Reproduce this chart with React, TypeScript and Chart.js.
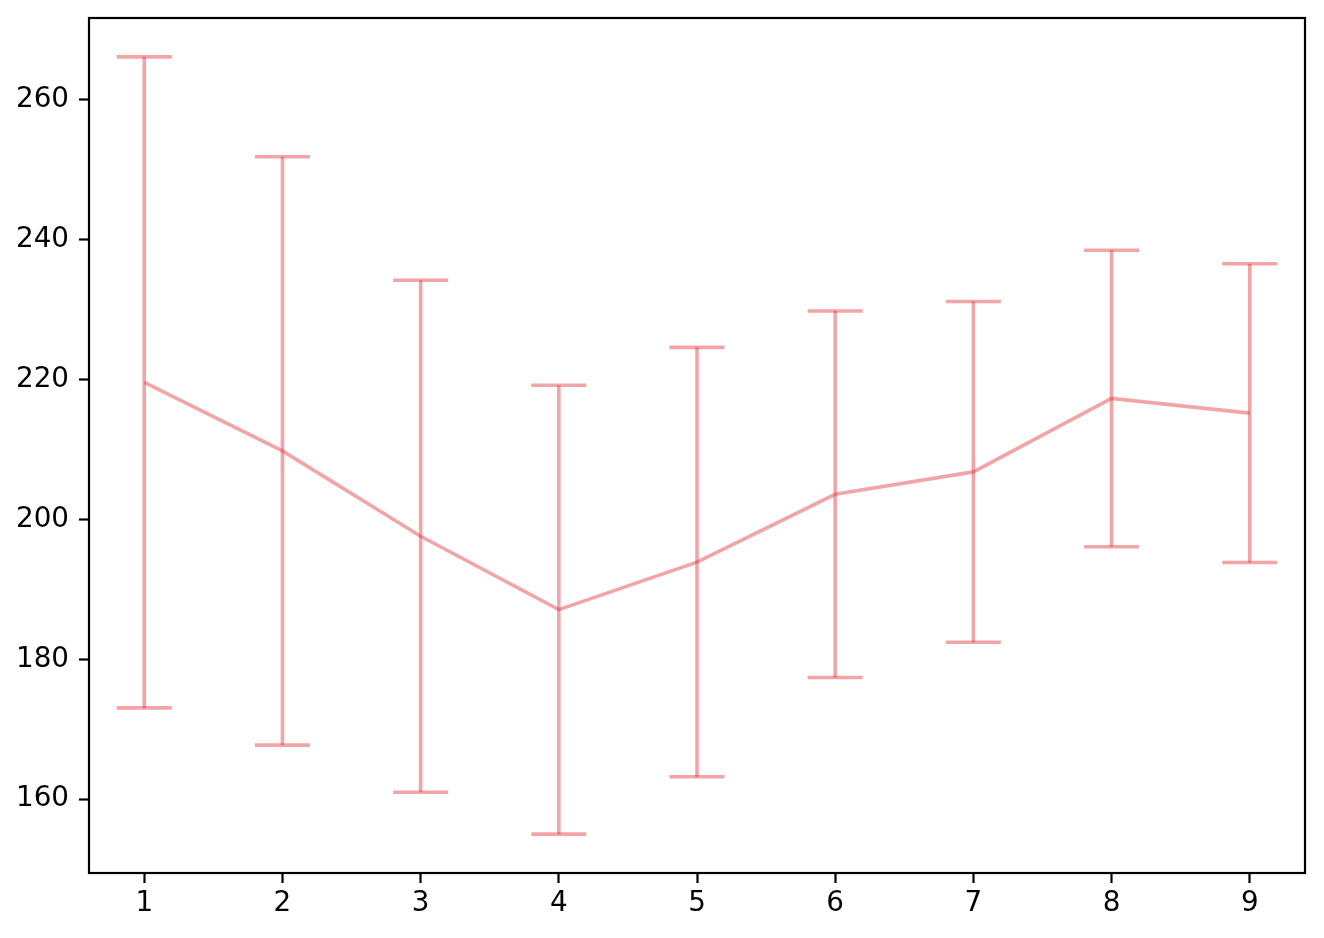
import React, { useEffect, useRef } from "react";
import { Chart, registerables } from "chart.js";

Chart.register(...registerables);

// ---- data ----
const xValues = [1, 2, 3, 4, 5, 6, 7, 8, 9];
const means = [219.6, 209.8, 197.6, 187.1, 193.9, 203.6, 206.8, 217.3, 215.2];
const errors = [46.55, 42.07, 36.6, 32.1, 30.7, 26.2, 24.36, 21.2, 21.36];
const xTicks = [1, 2, 3, 4, 5, 6, 7, 8, 9];
const yTicks = [160, 180, 200, 220, 240, 260];

const LINE_COLOR = "rgba(224, 40, 45, 0.42)";
const FONT = { family: "'DejaVu Sans', sans-serif", size: 27.8 };

// matplotlib-like 5% margins
const lows = means.map((m, i) => m - errors[i]);
const highs = means.map((m, i) => m + errors[i]);
const yMinData = Math.min(...lows);
const yMaxData = Math.max(...highs);
const yPad = (yMaxData - yMinData) * 0.05;
const xMinData = Math.min(...xValues);
const xMaxData = Math.max(...xValues);
const xPad = (xMaxData - xMinData) * 0.05;

const errorBarPlugin = {
  id: "errorBars",
  afterDatasetsDraw(chart: any) {
    const { ctx } = chart;
    const xs = chart.scales.x;
    const ys = chart.scales.y;
    ctx.save();
    ctx.strokeStyle = LINE_COLOR;
    ctx.lineWidth = 3.6;
    ctx.lineCap = "butt";
    const capHalf = 27.5;
    xValues.forEach((xv, i) => {
      const px = xs.getPixelForValue(xv);
      const pTop = ys.getPixelForValue(highs[i]);
      const pBot = ys.getPixelForValue(lows[i]);
      ctx.beginPath();
      ctx.moveTo(px, pTop);
      ctx.lineTo(px, pBot);
      ctx.stroke();
      ctx.beginPath();
      ctx.moveTo(px - capHalf, pTop);
      ctx.lineTo(px + capHalf, pTop);
      ctx.stroke();
      ctx.beginPath();
      ctx.moveTo(px - capHalf, pBot);
      ctx.lineTo(px + capHalf, pBot);
      ctx.stroke();
    });
    ctx.restore();
  },
};

const spinePlugin = {
  id: "spines",
  afterDraw(chart: any) {
    const { ctx, chartArea } = chart;
    ctx.save();
    ctx.strokeStyle = "#000";
    ctx.lineWidth = 2.2;
    ctx.strokeRect(
      chartArea.left,
      chartArea.top,
      chartArea.right - chartArea.left,
      chartArea.bottom - chartArea.top
    );
    ctx.restore();
  },
};

export default function App() {
  const canvasRef = useRef<HTMLCanvasElement | null>(null);

  useEffect(() => {
    if (!canvasRef.current) return;
    const chart = new Chart(canvasRef.current, {
      type: "line",
      data: {
        datasets: [
          {
            data: xValues.map((x, i) => ({ x, y: means[i] })),
            borderColor: LINE_COLOR,
            borderWidth: 3.6,
            pointRadius: 0,
            fill: false,
            tension: 0,
          },
        ],
      },
      options: {
        animation: false,
        responsive: false,
        devicePixelRatio: 1,
        layout: { padding: { top: 18, right: 19, left: 0, bottom: 0 } },
        plugins: {
          legend: { display: false },
          tooltip: { enabled: false },
        },
        scales: {
          x: {
            type: "linear",
            min: xMinData - xPad,
            max: xMaxData + xPad,
            afterFit(scale: any) {
              scale.height = 65;
              scale.paddingLeft = 0;
              scale.paddingRight = 0;
              scale.paddingTop = 0;
              scale.paddingBottom = 0;
            },
            afterBuildTicks(scale: any) {
              scale.ticks = xTicks.map((v) => ({ value: v }));
            },
            grid: {
              drawOnChartArea: false,
              drawTicks: true,
              tickLength: 10,
              tickWidth: 2.2,
              tickColor: "#000",
            },
            border: { display: false },
            ticks: {
              color: "#000",
              font: FONT,
              padding: 4,
              maxRotation: 0,
              autoSkip: false,
            },
          },
          y: {
            type: "linear",
            min: yMinData - yPad,
            max: yMaxData + yPad,
            afterFit(scale: any) {
              scale.width = 89;
              scale.paddingLeft = 0;
              scale.paddingRight = 0;
              scale.paddingTop = 0;
              scale.paddingBottom = 0;
            },
            afterBuildTicks(scale: any) {
              scale.ticks = yTicks.map((v) => ({ value: v }));
            },
            grid: {
              drawOnChartArea: false,
              drawTicks: true,
              tickLength: 10,
              tickWidth: 2.2,
              tickColor: "#000",
            },
            border: { display: false },
            ticks: {
              color: "#000",
              font: FONT,
              padding: 10,
              autoSkip: false,
            },
          },
        },
      },
      plugins: [errorBarPlugin, spinePlugin],
    });
    return () => chart.destroy();
  }, []);

  return (
    <div
      style={{
        position: "fixed",
        left: 0,
        top: 0,
        width: 1324,
        height: 938,
        background: "#fff",
      }}
    >
      <canvas
        ref={canvasRef}
        width={1324}
        height={938}
        style={{ width: 1324, height: 938, display: "block" }}
      />
    </div>
  );
}
